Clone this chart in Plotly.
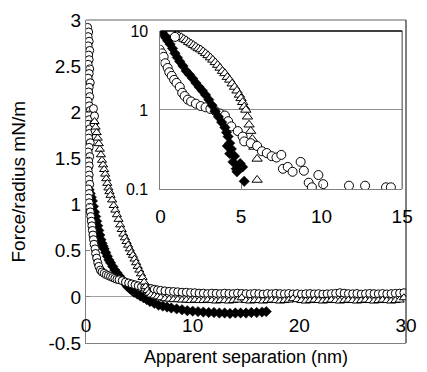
import plotly.graph_objects as go

FONT = "Liberation Sans, Arial, sans-serif"

# ---------------- main chart data (separation nm, force/radius mN/m) -------------
circles_main = [
    (0.15, 2.92), (0.25, 2.87), (0.2, 2.82), (0.3, 2.77), (0.2, 2.72), (0.35, 2.67),
    (0.25, 2.62), (0.3, 2.57), (0.2, 2.52), (0.35, 2.47), (0.3, 2.42), (0.2, 2.37),
    (0.4, 2.32), (0.3, 2.27), (0.25, 2.22), (0.35, 2.17), (0.2, 2.12), (0.3, 2.07),
    (0.4, 2.02), (0.25, 1.97), (0.3, 1.92), (0.2, 1.87), (0.35, 1.82), (0.3, 1.77),
    (0.25, 1.72), (0.4, 1.67), (0.3, 1.62), (0.2, 1.57), (0.35, 1.52), (0.25, 1.47),
    (0.3, 1.42), (0.2, 1.37), (0.3, 1.32), (0.25, 1.27), (0.35, 1.22), (0.2, 1.17),
    (0.3, 1.12), (0.25, 1.07), (0.3, 1.02),
    (0.7, 2.04), (0.8, 1.96), (0.75, 1.88), (0.85, 1.8),
    (0.35, 0.97), (0.4, 0.92), (0.45, 0.87), (0.5, 0.82), (0.55, 0.77), (0.6, 0.72),
    (0.65, 0.67), (0.7, 0.62), (0.75, 0.57), (0.85, 0.52), (0.9, 0.47), (1.0, 0.42),
    (1.1, 0.37), (1.2, 0.33), (1.35, 0.29), (1.5, 0.27), (1.7, 0.255), (1.9, 0.24),
    (2.1, 0.23), (2.3, 0.22), (2.5, 0.21), (2.7, 0.2), (2.9, 0.19), (3.1, 0.185),
    (3.4, 0.175), (3.7, 0.16), (4.0, 0.15), (4.3, 0.14), (4.6, 0.13), (4.9, 0.12),
    (5.2, 0.11), (5.5, 0.1), (5.8, 0.095), (6.1, 0.09), (6.4, 0.082), (6.7, 0.076),
    (7.0, 0.07), (7.4, 0.065), (7.8, 0.06), (8.2, 0.058), (8.6, 0.055), (9.0, 0.05),
    (9.4, 0.05), (9.8, 0.046), (10.2, 0.045), (10.6, 0.04), (11.0, 0.04), (11.4, 0.035),
    (11.8, 0.04), (12.2, 0.038), (12.6, 0.035), (13.0, 0.04), (13.4, 0.036), (13.8, 0.035),
    (14.2, 0.04), (14.6, 0.037), (15.0, 0.035), (15.4, 0.033), (15.8, 0.038), (16.2, 0.035),
    (16.6, 0.03), (17.0, 0.036), (17.4, 0.034), (17.8, 0.038), (18.2, 0.035), (18.6, 0.033),
    (19.0, 0.036), (19.4, 0.032), (19.8, 0.035), (20.2, 0.03), (20.6, 0.034), (21.0, 0.036),
    (21.4, 0.032), (21.8, 0.035), (22.2, 0.03), (22.6, 0.033), (23.0, 0.035), (23.4, 0.038),
    (23.8, 0.045), (24.2, 0.04), (24.6, 0.035), (25.0, 0.033), (25.4, 0.036), (25.8, 0.03),
    (26.2, 0.034), (26.6, 0.037), (27.0, 0.035), (27.4, 0.033), (27.8, 0.036), (28.2, 0.032),
    (28.6, 0.035), (29.0, 0.038), (29.4, 0.04), (29.8, 0.045),
]

diamonds_main = [
    (0.1, 1.25), (0.2, 1.2), (0.3, 1.16), (0.4, 1.12), (0.5, 1.08), (0.6, 1.04),
    (0.7, 0.98), (0.8, 0.92), (0.9, 0.87), (1.0, 0.82), (1.1, 0.77), (1.2, 0.72),
    (1.3, 0.67), (1.4, 0.62), (1.5, 0.58), (1.6, 0.55), (1.7, 0.52), (1.85, 0.48),
    (2.0, 0.44), (2.15, 0.4), (2.3, 0.37), (2.5, 0.33), (2.7, 0.29), (2.9, 0.26),
    (3.1, 0.23), (3.3, 0.2), (3.5, 0.17), (3.7, 0.14), (3.9, 0.11), (4.1, 0.09),
    (4.3, 0.07), (4.5, 0.05), (4.8, 0.03), (5.1, 0.01), (5.4, -0.01), (5.7, -0.03),
    (6.0, -0.05), (6.4, -0.07), (6.8, -0.09), (7.2, -0.1), (7.6, -0.11), (8.0, -0.12),
    (8.5, -0.13), (9.0, -0.14), (9.5, -0.15), (10.0, -0.155), (10.5, -0.16), (11.0, -0.165),
    (11.5, -0.17), (12.0, -0.17), (12.5, -0.175), (13.0, -0.175), (13.5, -0.18), (14.0, -0.175),
    (14.5, -0.175), (15.0, -0.175), (15.5, -0.17), (16.0, -0.17), (16.5, -0.165), (16.9, -0.16),
]

triangles_main = [
    (0.8, 1.9), (0.9, 1.84), (1.0, 1.78), (1.1, 1.72), (1.2, 1.66), (1.3, 1.6),
    (1.4, 1.54), (1.5, 1.48), (1.6, 1.43), (1.7, 1.38), (1.8, 1.33), (1.9, 1.28),
    (2.0, 1.23), (2.1, 1.18), (2.2, 1.14), (2.3, 1.1), (2.45, 1.05), (2.6, 0.99),
    (2.75, 0.94), (2.9, 0.89), (3.05, 0.84), (3.2, 0.78), (3.35, 0.73), (3.5, 0.68),
    (3.65, 0.64), (3.8, 0.6), (3.95, 0.56), (4.1, 0.52), (4.25, 0.48), (4.4, 0.45),
    (4.55, 0.41), (4.7, 0.37), (4.85, 0.33), (5.0, 0.29), (5.15, 0.25), (5.3, 0.21),
    (5.45, 0.16), (5.6, 0.11), (5.75, 0.07), (5.9, 0.04), (6.1, 0.02), (6.4, 0.01),
    (6.7, 0.0), (7.0, -0.01), (7.4, -0.02), (7.8, -0.025), (8.2, -0.03), (8.6, -0.03),
    (9.0, -0.035), (9.4, -0.035), (9.8, -0.04), (10.2, -0.035), (10.6, -0.04), (11.0, -0.04),
    (11.4, -0.035), (11.8, -0.04), (12.2, -0.045), (12.6, -0.04), (13.0, -0.04), (13.4, -0.045),
    (13.8, -0.04), (14.2, -0.035), (14.6, -0.01), (15.0, -0.04), (15.4, -0.045), (15.8, -0.04),
    (16.2, -0.04), (16.6, -0.045), (17.0, -0.04), (17.4, -0.035), (17.8, -0.04), (18.2, -0.045),
    (18.6, -0.04), (19.0, -0.035), (19.4, -0.02), (19.8, -0.03), (20.2, -0.04), (20.6, -0.045),
    (21.0, -0.04), (21.4, -0.035), (21.8, -0.04), (22.2, -0.045), (22.6, -0.04), (23.0, -0.035),
    (23.4, -0.04), (23.8, -0.045), (24.2, -0.04), (24.6, -0.035), (25.0, -0.04), (25.4, -0.045),
    (25.8, -0.04), (26.2, -0.035), (26.6, -0.04), (27.0, -0.045), (27.4, -0.04), (27.8, -0.035),
    (28.2, -0.04), (28.6, -0.045), (29.0, -0.04), (29.4, -0.035), (29.8, -0.01),
]

# ---------------- inset data (log scale) ----------------
circles_inset = [
    (0.0, 9.8), (0.3, 9.9), (0.6, 10.0), (0.9, 8.4), (-0.05, 5.8), (0.1, 5.2), (0.2, 4.7),
    (0.3, 3.9), (0.45, 3.4), (0.55, 3.0), (0.7, 2.7), (0.85, 2.4), (1.0, 2.2), (1.2, 1.95),
    (1.35, 1.65), (1.5, 1.5), (1.7, 1.35), (1.9, 1.28), (2.2, 1.2), (2.5, 1.12), (2.8, 1.08),
    (3.1, 1.03), (3.4, 0.97), (3.7, 0.9), (4.0, 0.85), (4.2, 0.72), (4.4, 0.62), (4.8, 0.54),
    (5.1, 0.46), (5.2, 0.4), (5.6, 0.38), (6.0, 0.35), (6.3, 0.3), (6.6, 0.285), (6.9, 0.26),
    (7.2, 0.25), (7.5, 0.27), (7.6, 0.18), (7.9, 0.19), (8.2, 0.165), (8.7, 0.22), (8.9, 0.17),
    (9.2, 0.12), (9.4, 0.105), (9.8, 0.15), (10.1, 0.115), (11.7, 0.11), (12.7, 0.11),
    (14.0, 0.105), (14.3, 0.105),
]

triangles_inset = [
    (0.2, 10.0), (0.35, 9.9), (0.5, 9.8), (0.65, 9.5), (0.8, 9.3), (0.9, 9.1), (1.0, 9.0),
    (1.15, 8.6), (1.3, 8.3), (1.45, 7.9), (1.6, 7.6), (1.75, 7.2), (1.9, 6.9), (2.05, 6.6),
    (2.2, 6.3), (2.35, 6.0), (2.5, 5.8), (2.65, 5.5), (2.8, 5.2), (2.95, 4.9), (3.1, 4.6),
    (3.25, 4.3), (3.4, 4.0), (3.55, 3.7), (3.7, 3.4), (3.85, 3.1), (4.0, 2.9), (4.15, 2.6),
    (4.3, 2.4), (4.45, 2.15), (4.6, 1.95), (4.75, 1.75), (4.9, 1.55), (5.0, 1.4), (5.1, 1.25),
    (5.2, 1.1), (5.3, 1.0), (5.4, 0.82), (5.5, 0.65), (5.6, 0.54), (5.7, 0.43), (5.8, 0.34),
    (6.0, 0.24), (6.0, 0.13),
]

diamonds_inset = [
    (0.0, 10.0), (0.1, 9.6), (0.2, 9.0), (0.3, 8.3), (0.45, 7.5), (0.6, 6.8), (0.75, 6.0),
    (0.9, 5.2), (1.05, 4.6), (1.2, 4.1), (1.4, 3.6), (1.6, 3.1), (1.8, 2.8), (2.0, 2.5),
    (2.2, 2.2), (2.4, 1.95), (2.6, 1.75), (2.8, 1.55), (3.0, 1.35), (3.2, 1.15), (3.4, 0.96),
    (3.6, 0.82), (3.8, 0.7), (4.0, 0.6), (4.1, 0.52), (4.2, 0.46), (4.3, 0.38), (4.15, 0.35),
    (4.4, 0.32), (4.3, 0.28), (4.6, 0.26), (4.5, 0.22), (4.95, 0.21), (4.7, 0.18), (5.1, 0.19),
    (4.75, 0.165), (5.2, 0.125),
]

main_y_ticks = [-0.5, 0, 0.5, 1, 1.5, 2, 2.5, 3]
main_y_labels = ["-0.5", "0", "0.5", "1", "1.5", "2", "2.5", "3"]
main_x_ticks = [0, 10, 20, 30]
main_x_labels = ["0", "10", "20", "30"]
inset_x_ticks = [0, 5, 10, 15]
inset_x_labels = ["0", "5", "10", "15"]
inset_y_ticks = [0.1, 1, 10]
inset_y_labels = ["0.1", "1", "10"]


def xs(p):
    return [a for a, _ in p]


def ys(p):
    return [b for _, b in p]


fig = go.Figure()

open_circle = dict(symbol="circle", size=8, color="white", line=dict(color="black", width=1))
open_tri = dict(symbol="triangle-up", size=8, color="white", line=dict(color="black", width=1))
black_dia = dict(symbol="diamond", size=8, color="black", line=dict(color="black", width=0.5))

# triangles drawn against the overlay x-axis (same range as the main one) so it carries labels
fig.add_trace(go.Scatter(x=xs(triangles_main), y=ys(triangles_main), mode="markers",
                         marker=open_tri, xaxis="x3", yaxis="y", showlegend=False))
fig.add_trace(go.Scatter(x=xs(diamonds_main), y=ys(diamonds_main), mode="markers",
                         marker=black_dia, xaxis="x", yaxis="y", showlegend=False))
fig.add_trace(go.Scatter(x=xs(circles_main), y=ys(circles_main), mode="markers",
                         marker=open_circle, xaxis="x", yaxis="y", showlegend=False))

ic = dict(symbol="circle", size=9, color="white", line=dict(color="black", width=1))
it = dict(symbol="triangle-up", size=9, color="white", line=dict(color="black", width=1))
idm = dict(symbol="diamond", size=8, color="black", line=dict(color="black", width=0.5))
fig.add_trace(go.Scatter(x=xs(triangles_inset), y=ys(triangles_inset), mode="markers",
                         marker=it, xaxis="x2", yaxis="y2", showlegend=False))
fig.add_trace(go.Scatter(x=xs(circles_inset), y=ys(circles_inset), mode="markers",
                         marker=ic, xaxis="x2", yaxis="y2", showlegend=False))
fig.add_trace(go.Scatter(x=xs(diamonds_inset), y=ys(diamonds_inset), mode="markers",
                         marker=idm, xaxis="x2", yaxis="y2", showlegend=False))

tickfont = dict(family=FONT, size=19, color="black")

fig.update_layout(
    width=427, height=372,
    margin=dict(l=86, r=10, t=18, b=29),
    paper_bgcolor="white", plot_bgcolor="white",
    font=dict(family=FONT, size=16, color="black"),
    xaxis=dict(range=[0, 30], domain=[0, 1], tickvals=main_x_ticks,
               showticklabels=False, ticks="", showgrid=False, zeroline=False,
               showline=True, linecolor="#808080"),
    xaxis3=dict(range=[0, 30], overlaying="x", anchor="free", position=0.095,
                tickvals=main_x_ticks, ticktext=main_x_labels, ticks="",
                showgrid=False, zeroline=False, showline=False, tickfont=tickfont),
    yaxis=dict(range=[-0.5, 3], domain=[0, 1], tickvals=main_y_ticks, ticktext=main_y_labels,
               ticks="inside", ticklen=4, tickcolor="#808080", showgrid=False,
               zeroline=True, zerolinecolor="#a0a0a0", zerolinewidth=1,
               showline=True, linecolor="#808080", tickfont=tickfont),
    xaxis2=dict(range=[0, 15], domain=[0.2326, 0.988], anchor="y2", tickvals=inset_x_ticks,
                ticktext=inset_x_labels, ticks="inside", ticklen=5, tickcolor="#808080",
                showgrid=False, zeroline=False, showline=True, linecolor="#808080",
                tickfont=tickfont, ticklabelstandoff=10),
    yaxis2=dict(type="log", range=[-1, 1], domain=[0.4769, 0.9662], anchor="x2",
                tickvals=inset_y_ticks, ticktext=inset_y_labels, ticks="",
                showgrid=True, gridcolor="#909090", gridwidth=1, zeroline=False,
                showline=True, linecolor="#808080",
                tickfont=dict(family=FONT, size=16, color="black"),
                ticklabelstandoff=8),
    shapes=[
        dict(type="line", xref="x domain", yref="y domain", x0=0, x1=1, y0=1, y1=1,
             line=dict(color="#606060", width=1)),
        dict(type="line", xref="x domain", yref="y domain", x0=1, x1=1, y0=0, y1=1,
             line=dict(color="black", width=1)),
        dict(type="line", xref="x2 domain", yref="y2 domain", x0=0, x1=1, y0=1, y1=1,
             line=dict(color="black", width=1.5)),
        dict(type="line", xref="x2 domain", yref="y2 domain", x0=1, x1=1, y0=0, y1=1,
             line=dict(color="#404040", width=1)),
    ],
    annotations=[
        dict(text="Apparent separation (nm)", xref="paper", yref="paper", x=0.5, y=0,
             yshift=-14, yanchor="middle", xanchor="center", showarrow=False,
             font=dict(family=FONT, size=18, color="black")),
        dict(text="Force/radius mN/m", xref="paper", yref="paper", x=0, xshift=-68,
             y=0.5, textangle=-90, xanchor="center", yanchor="middle", showarrow=False,
             font=dict(family=FONT, size=19, color="black")),
    ],
)

fig.write_html("out.html")
